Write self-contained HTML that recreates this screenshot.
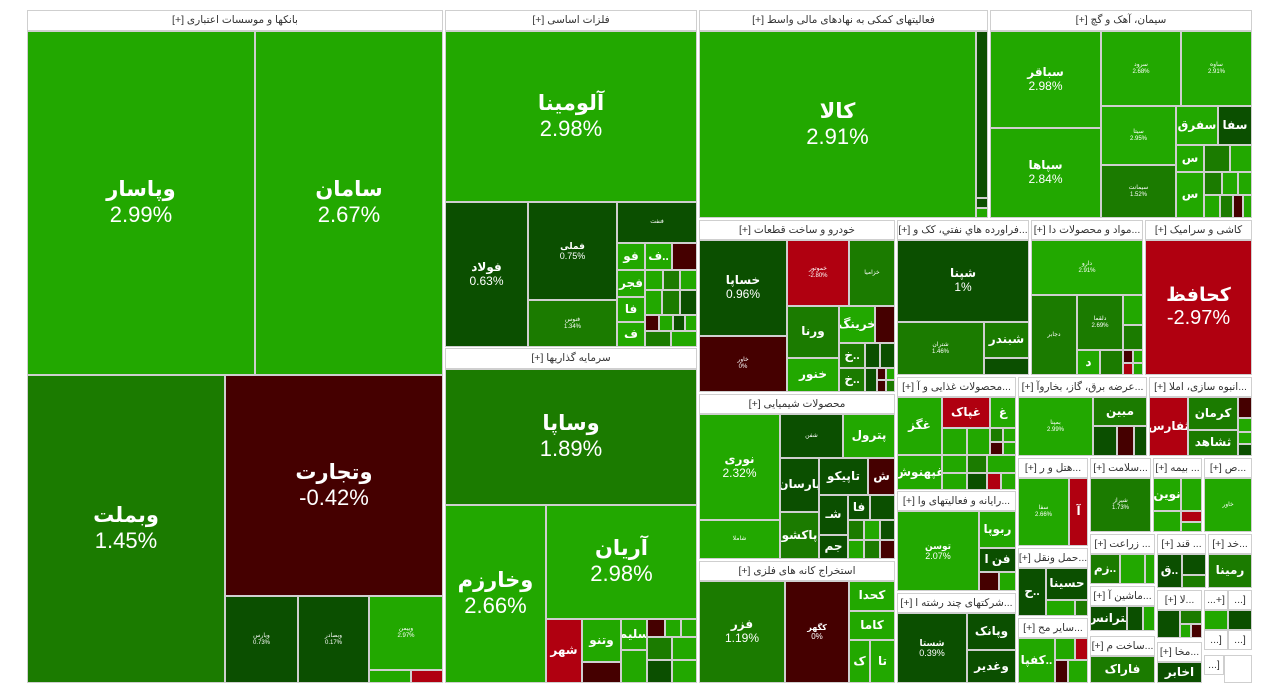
<!DOCTYPE html>
<html><head><meta charset="utf-8"><style>
body{margin:0;width:1280px;height:699px;background:#fff;position:relative;overflow:hidden;font-family:"Liberation Sans","DejaVu Sans",sans-serif}
div{position:absolute;box-sizing:border-box;border:1px solid #cfcfcf;display:flex;flex-direction:column;align-items:center;justify-content:center;color:#fff;overflow:hidden;text-align:center;line-height:1.15;white-space:nowrap}
.h{background:#fff;color:#333;font-size:10.5px;direction:rtl}
.g{background:#22a800}.m{background:#1b7b00}.d{background:#0b4f00}.r{background:#b00010}.k{background:#450000}
.b{font-size:22px}.b b{font-size:21px}
.s{font-size:12px}.s b{font-size:12px}
.t{font-size:6px}
</style></head><body>
<!-- S1 -->
<div class="h" style="left:27px;top:10px;width:416px;height:21px">بانکها و موسسات اعتباری [+]</div>
<div class="g b" style="left:27px;top:31px;width:228px;height:344px"><b>وپاسار</b>2.99%</div>
<div class="g b" style="left:255px;top:31px;width:188px;height:344px"><b>سامان</b>2.67%</div>
<div class="m b" style="left:27px;top:375px;width:198px;height:308px"><b>وبملت</b>1.45%</div>
<div class="k b" style="left:225px;top:375px;width:218px;height:221px"><b>وتجارت</b>-0.42%</div>
<div class="d t" style="left:225px;top:596px;width:73px;height:87px">ویارس<br>0.73%</div>
<div class="d t" style="left:298px;top:596px;width:71px;height:87px">وبصادر<br>0.17%</div>
<div class="g t" style="left:369px;top:596px;width:74px;height:74px">وبیمن<br>2.97%</div>
<div class="g" style="left:369px;top:670px;width:42px;height:13px"></div>
<div class="r" style="left:411px;top:670px;width:32px;height:13px"></div>
<!-- S2 -->
<div class="h" style="left:445px;top:10px;width:252px;height:21px">فلزات اساسی [+]</div>
<div class="g b" style="left:445px;top:31px;width:252px;height:171px"><b>آلومینا</b>2.98%</div>
<div class="d s" style="left:445px;top:202px;width:83px;height:145px"><b>فولاد</b>0.63%</div>
<div class="d t" style="left:528px;top:202px;width:89px;height:98px"><b style="font-size:9px">فملی</b><span style="font-size:9px">0.75%</span></div>
<div class="m t" style="left:528px;top:300px;width:89px;height:47px">فنوس<br>1.34%</div>
<div class="d t" style="left:617px;top:202px;width:80px;height:41px">فنفت</div>
<div class="g s" style="left:617px;top:243px;width:28px;height:27px"><b>فو</b></div>
<div class="g s" style="left:645px;top:243px;width:27px;height:27px"><b>ف..</b></div>
<div class="k" style="left:672px;top:243px;width:25px;height:27px"></div>
<div class="g s" style="left:617px;top:270px;width:28px;height:27px"><b>فجر</b></div>
<div class="g" style="left:645px;top:270px;width:18px;height:20px"></div>
<div class="m" style="left:663px;top:270px;width:17px;height:20px"></div>
<div class="g" style="left:680px;top:270px;width:17px;height:20px"></div>
<div class="g s" style="left:617px;top:297px;width:28px;height:25px"><b>فا</b></div>
<div class="g s" style="left:617px;top:322px;width:28px;height:25px"><b>ف</b></div>
<div class="g" style="left:645px;top:290px;width:17px;height:25px"></div>
<div class="m" style="left:662px;top:290px;width:18px;height:25px"></div>
<div class="d" style="left:680px;top:290px;width:17px;height:25px"></div>
<div class="k" style="left:645px;top:315px;width:14px;height:16px"></div>
<div class="g" style="left:659px;top:315px;width:14px;height:16px"></div>
<div class="d" style="left:673px;top:315px;width:12px;height:16px"></div>
<div class="g" style="left:685px;top:315px;width:12px;height:16px"></div>
<div class="m" style="left:645px;top:331px;width:26px;height:16px"></div>
<div class="g" style="left:671px;top:331px;width:26px;height:16px"></div>
<!-- S3 -->
<div class="h" style="left:445px;top:348px;width:252px;height:21px">سرمایه گذاریها [+]</div>
<div class="m b" style="left:445px;top:369px;width:252px;height:136px"><b>وساپا</b>1.89%</div>
<div class="g b" style="left:445px;top:505px;width:101px;height:178px"><b>وخارزم</b>2.66%</div>
<div class="g b" style="left:546px;top:505px;width:151px;height:114px"><b>آریان</b>2.98%</div>
<div class="r s" style="left:546px;top:619px;width:36px;height:64px"><b>شهر</b></div>
<div class="g s" style="left:582px;top:619px;width:39px;height:43px"><b>وتنو</b></div>
<div class="k" style="left:582px;top:662px;width:39px;height:21px"></div>
<div class="g s" style="left:621px;top:619px;width:26px;height:31px"><b>سلیم</b></div>
<div class="k" style="left:647px;top:619px;width:18px;height:18px"></div>
<div class="g" style="left:665px;top:619px;width:16px;height:18px"></div>
<div class="g" style="left:681px;top:619px;width:16px;height:18px"></div>
<div class="m" style="left:647px;top:637px;width:25px;height:23px"></div>
<div class="g" style="left:672px;top:637px;width:25px;height:23px"></div>
<div class="g" style="left:621px;top:650px;width:26px;height:33px"></div>
<div class="d" style="left:647px;top:660px;width:25px;height:23px"></div>
<div class="g" style="left:672px;top:660px;width:25px;height:23px"></div>
<!-- S4 -->
<div class="h" style="left:699px;top:10px;width:289px;height:21px">فعالیتهای کمکی به نهادهای مالی واسط [+]</div>
<div class="g b" style="left:699px;top:31px;width:277px;height:187px"><b>کالا</b>2.91%</div>
<div class="d" style="left:976px;top:31px;width:12px;height:167px"></div>
<div class="d" style="left:976px;top:198px;width:12px;height:10px"></div>
<div class="g" style="left:976px;top:208px;width:12px;height:10px"></div>
<!-- S5 -->
<div class="h" style="left:990px;top:10px;width:262px;height:21px">سیمان، آهک و گچ [+]</div>
<div class="g s" style="left:990px;top:31px;width:111px;height:97px"><b>سباقر</b>2.98%</div>
<div class="g s" style="left:990px;top:128px;width:111px;height:90px"><b>سپاها</b>2.84%</div>
<div class="g t" style="left:1101px;top:31px;width:80px;height:75px">سرود<br>2.68%</div>
<div class="g t" style="left:1181px;top:31px;width:71px;height:75px">ساوه<br>2.91%</div>
<div class="g t" style="left:1101px;top:106px;width:75px;height:59px">سیتا<br>2.95%</div>
<div class="m t" style="left:1101px;top:165px;width:75px;height:53px">سیمانت<br>1.52%</div>
<div class="g s" style="left:1176px;top:106px;width:42px;height:39px"><b>سفرق</b></div>
<div class="d s" style="left:1218px;top:106px;width:34px;height:39px"><b>سفا</b></div>
<div class="g s" style="left:1176px;top:145px;width:28px;height:27px"><b>س</b></div>
<div class="m" style="left:1204px;top:145px;width:26px;height:27px"></div>
<div class="g" style="left:1230px;top:145px;width:22px;height:27px"></div>
<div class="g s" style="left:1176px;top:172px;width:28px;height:46px"><b>س</b></div>
<div class="m" style="left:1204px;top:172px;width:18px;height:23px"></div>
<div class="g" style="left:1222px;top:172px;width:16px;height:23px"></div>
<div class="g" style="left:1238px;top:172px;width:14px;height:23px"></div>
<div class="g" style="left:1204px;top:195px;width:16px;height:23px"></div>
<div class="m" style="left:1220px;top:195px;width:13px;height:23px"></div>
<div class="k" style="left:1233px;top:195px;width:10px;height:23px"></div>
<div class="g" style="left:1243px;top:195px;width:9px;height:23px"></div>
<!-- S6 -->
<div class="h" style="left:699px;top:220px;width:196px;height:20px">خودرو و ساخت قطعات [+]</div>
<div class="d s" style="left:699px;top:240px;width:88px;height:96px"><b>خساپا</b>0.96%</div>
<div class="k t" style="left:699px;top:336px;width:88px;height:56px">خاور<br>0%</div>
<div class="r t" style="left:787px;top:240px;width:62px;height:66px">خموتور<br>-2.80%</div>
<div class="m t" style="left:849px;top:240px;width:46px;height:66px">خزامیا</div>
<div class="m s" style="left:787px;top:306px;width:52px;height:52px"><b>ورنا</b></div>
<div class="g s" style="left:839px;top:306px;width:36px;height:37px"><b>خرینگ</b></div>
<div class="k" style="left:875px;top:306px;width:20px;height:37px"></div>
<div class="g s" style="left:787px;top:358px;width:52px;height:34px"><b>خنور</b></div>
<div class="m s" style="left:839px;top:343px;width:26px;height:25px"><b>خ..</b></div>
<div class="d" style="left:865px;top:343px;width:15px;height:25px"></div>
<div class="d" style="left:880px;top:343px;width:15px;height:25px"></div>
<div class="m s" style="left:839px;top:368px;width:26px;height:24px"><b>خ..</b></div>
<div class="d" style="left:865px;top:368px;width:12px;height:24px"></div>
<div class="k" style="left:877px;top:368px;width:9px;height:12px"></div>
<div class="g" style="left:886px;top:368px;width:9px;height:12px"></div>
<div class="k" style="left:877px;top:380px;width:9px;height:12px"></div>
<div class="m" style="left:886px;top:380px;width:9px;height:12px"></div>
<!-- S7 -->
<div class="h" style="left:897px;top:220px;width:132px;height:20px">...فراورده هاي نفتي، کک و [+]</div>
<div class="d s" style="left:897px;top:240px;width:132px;height:82px"><b>شپنا</b>1%</div>
<div class="m t" style="left:897px;top:322px;width:87px;height:53px">شتران<br>1.46%</div>
<div class="m s" style="left:984px;top:322px;width:45px;height:36px"><b>شبندر</b></div>
<div class="d" style="left:984px;top:358px;width:45px;height:17px"></div>
<!-- S8 -->
<div class="h" style="left:1031px;top:220px;width:112px;height:20px">...مواد و محصولات دا [+]</div>
<div class="g t" style="left:1031px;top:240px;width:112px;height:55px">دارو<br>2.91%</div>
<div class="m t" style="left:1031px;top:295px;width:46px;height:80px">دجابر</div>
<div class="m t" style="left:1077px;top:295px;width:46px;height:55px">دلقما<br>2.69%</div>
<div class="g s" style="left:1077px;top:350px;width:23px;height:25px"><b>د</b></div>
<div class="m" style="left:1100px;top:350px;width:23px;height:25px"></div>
<div class="g" style="left:1123px;top:295px;width:20px;height:30px"></div>
<div class="m" style="left:1123px;top:325px;width:20px;height:25px"></div>
<div class="k" style="left:1123px;top:350px;width:10px;height:13px"></div>
<div class="g" style="left:1133px;top:350px;width:10px;height:13px"></div>
<div class="r" style="left:1123px;top:363px;width:10px;height:12px"></div>
<div class="g" style="left:1133px;top:363px;width:10px;height:12px"></div>
<!-- S9 -->
<div class="h" style="left:1145px;top:220px;width:107px;height:20px">کاشی و سرامیک [+]</div>
<div class="r b" style="left:1145px;top:240px;width:107px;height:135px;font-size:20px"><b style="font-size:19px">کحافظ</b>-2.97%</div>
<!-- S10 -->
<div class="h" style="left:897px;top:377px;width:119px;height:20px">...محصولات غذایی و آ [+]</div>
<div class="g s" style="left:897px;top:397px;width:45px;height:58px"><b>غگز</b></div>
<div class="r s" style="left:942px;top:397px;width:48px;height:31px"><b>غپاک</b></div>
<div class="g s" style="left:990px;top:397px;width:26px;height:31px"><b>غ</b></div>
<div class="g" style="left:942px;top:428px;width:25px;height:27px"></div>
<div class="g" style="left:967px;top:428px;width:23px;height:27px"></div>
<div class="m" style="left:990px;top:428px;width:13px;height:14px"></div>
<div class="g" style="left:1003px;top:428px;width:13px;height:14px"></div>
<div class="k" style="left:990px;top:442px;width:13px;height:13px"></div>
<div class="g" style="left:1003px;top:442px;width:13px;height:13px"></div>
<div class="g s" style="left:897px;top:455px;width:45px;height:35px"><b>غپهنوش</b></div>
<div class="g" style="left:942px;top:455px;width:25px;height:18px"></div>
<div class="m" style="left:967px;top:455px;width:20px;height:18px"></div>
<div class="g" style="left:987px;top:455px;width:29px;height:18px"></div>
<div class="g" style="left:942px;top:473px;width:25px;height:17px"></div>
<div class="d" style="left:967px;top:473px;width:20px;height:17px"></div>
<div class="r" style="left:987px;top:473px;width:14px;height:17px"></div>
<div class="g" style="left:1001px;top:473px;width:15px;height:17px"></div>
<!-- S11 -->
<div class="h" style="left:897px;top:491px;width:119px;height:20px">...رایانه و فعالیتهای وا [+]</div>
<div class="g t" style="left:897px;top:511px;width:82px;height:80px"><b style="font-size:9px">توسن</b><span style="font-size:9px">2.07%</span></div>
<div class="g s" style="left:979px;top:511px;width:37px;height:37px"><b>ربوپا</b></div>
<div class="d s" style="left:979px;top:548px;width:37px;height:24px"><b>فن ا</b></div>
<div class="k" style="left:979px;top:572px;width:20px;height:19px"></div>
<div class="g" style="left:999px;top:572px;width:17px;height:19px"></div>
<!-- S12 -->
<div class="h" style="left:897px;top:593px;width:119px;height:20px">...شرکتهای چند رشته ا [+]</div>
<div class="d t" style="left:897px;top:613px;width:70px;height:70px"><b style="font-size:9px">شستا</b><span style="font-size:9px">0.39%</span></div>
<div class="d s" style="left:967px;top:613px;width:49px;height:37px"><b>وپانک</b></div>
<div class="d s" style="left:967px;top:650px;width:49px;height:33px"><b>وغدیر</b></div>
<!-- S13 -->
<div class="h" style="left:699px;top:394px;width:196px;height:20px">محصولات شیمیایی [+]</div>
<div class="g s" style="left:699px;top:414px;width:81px;height:106px"><b>نوری</b>2.32%</div>
<div class="d t" style="left:780px;top:414px;width:63px;height:44px">شفن</div>
<div class="g s" style="left:843px;top:414px;width:52px;height:44px"><b>پترول</b></div>
<div class="d s" style="left:780px;top:458px;width:39px;height:54px"><b>پارسان</b></div>
<div class="d s" style="left:819px;top:458px;width:49px;height:37px"><b>تاپیکو</b></div>
<div class="k s" style="left:868px;top:458px;width:27px;height:37px"><b>ش</b></div>
<div class="d s" style="left:819px;top:495px;width:29px;height:40px"><b>شـ</b></div>
<div class="d s" style="left:848px;top:495px;width:22px;height:25px"><b>فا</b></div>
<div class="d" style="left:870px;top:495px;width:25px;height:25px"></div>
<div class="m s" style="left:780px;top:512px;width:39px;height:47px"><b>پاکشو</b></div>
<div class="d s" style="left:819px;top:535px;width:29px;height:24px"><b>جم</b></div>
<div class="g t" style="left:699px;top:520px;width:81px;height:39px">شاملا</div>
<div class="m" style="left:848px;top:520px;width:16px;height:20px"></div>
<div class="g" style="left:864px;top:520px;width:16px;height:20px"></div>
<div class="d" style="left:880px;top:520px;width:15px;height:20px"></div>
<div class="g" style="left:848px;top:540px;width:16px;height:19px"></div>
<div class="m" style="left:864px;top:540px;width:16px;height:19px"></div>
<div class="k" style="left:880px;top:540px;width:15px;height:19px"></div>
<!-- S14 -->
<div class="h" style="left:699px;top:561px;width:196px;height:20px">استخراج کانه های فلزی [+]</div>
<div class="m s" style="left:699px;top:581px;width:86px;height:102px"><b>فزر</b>1.19%</div>
<div class="k t" style="left:785px;top:581px;width:64px;height:102px"><b style="font-size:8px">کگهر</b><span style="font-size:8px">0%</span></div>
<div class="g s" style="left:849px;top:581px;width:46px;height:30px"><b>کحدا</b></div>
<div class="g s" style="left:849px;top:611px;width:46px;height:29px"><b>کاما</b></div>
<div class="g s" style="left:849px;top:640px;width:21px;height:43px"><b>ک</b></div>
<div class="g s" style="left:870px;top:640px;width:25px;height:43px"><b>تا</b></div>
<!-- S15 -->
<div class="h" style="left:1018px;top:377px;width:129px;height:20px">...عرضه برق، گاز، بخاروآ [+]</div>
<div class="g t" style="left:1018px;top:397px;width:75px;height:59px">بمپنا<br>2.99%</div>
<div class="m s" style="left:1093px;top:397px;width:54px;height:29px"><b>مبین</b></div>
<div class="d" style="left:1093px;top:426px;width:24px;height:30px"></div>
<div class="k" style="left:1117px;top:426px;width:17px;height:30px"></div>
<div class="d" style="left:1134px;top:426px;width:13px;height:30px"></div>
<!-- S16 -->
<div class="h" style="left:1149px;top:377px;width:103px;height:20px">...انبوه سازی، املا [+]</div>
<div class="r s" style="left:1149px;top:397px;width:39px;height:59px"><b>ثفارس</b></div>
<div class="m s" style="left:1188px;top:397px;width:50px;height:33px"><b>کرمان</b></div>
<div class="k" style="left:1238px;top:397px;width:14px;height:21px"></div>
<div class="m s" style="left:1188px;top:430px;width:50px;height:26px"><b>ثشاهد</b></div>
<div class="g" style="left:1238px;top:418px;width:14px;height:14px"></div>
<div class="g" style="left:1238px;top:432px;width:14px;height:12px"></div>
<div class="d" style="left:1238px;top:444px;width:14px;height:12px"></div>
<!-- S17-20 -->
<div class="h" style="left:1018px;top:458px;width:70px;height:20px">...هتل و ر [+]</div>
<div class="g t" style="left:1018px;top:478px;width:51px;height:68px">سفا<br>2.66%</div>
<div class="r s" style="left:1069px;top:478px;width:19px;height:68px"><b>آ</b></div>
<div class="h" style="left:1090px;top:458px;width:61px;height:20px">...سلامت [+]</div>
<div class="m t" style="left:1090px;top:478px;width:61px;height:54px">شیراز<br>1.73%</div>
<div class="h" style="left:1153px;top:458px;width:49px;height:20px">... بیمه [+]</div>
<div class="g s" style="left:1153px;top:478px;width:28px;height:33px"><b>نوین</b></div>
<div class="g" style="left:1181px;top:478px;width:21px;height:33px"></div>
<div class="g" style="left:1153px;top:511px;width:28px;height:21px"></div>
<div class="r" style="left:1181px;top:511px;width:21px;height:11px"></div>
<div class="g" style="left:1181px;top:522px;width:21px;height:10px"></div>
<div class="h" style="left:1204px;top:458px;width:48px;height:20px">...ص [+]</div>
<div class="g t" style="left:1204px;top:478px;width:48px;height:54px">خاور</div>
<!-- S21-29 -->
<div class="h" style="left:1018px;top:548px;width:70px;height:20px">...حمل ونقل [+]</div>
<div class="d s" style="left:1018px;top:568px;width:28px;height:48px"><b>ح..</b></div>
<div class="d s" style="left:1046px;top:568px;width:42px;height:32px"><b>حسینا</b></div>
<div class="g" style="left:1046px;top:600px;width:29px;height:16px"></div>
<div class="m" style="left:1075px;top:600px;width:13px;height:16px"></div>
<div class="h" style="left:1090px;top:534px;width:65px;height:20px">... زراعت [+]</div>
<div class="m s" style="left:1090px;top:554px;width:30px;height:30px"><b>زم..</b></div>
<div class="g" style="left:1120px;top:554px;width:25px;height:30px"></div>
<div class="g" style="left:1145px;top:554px;width:10px;height:30px"></div>
<div class="h" style="left:1157px;top:534px;width:49px;height:20px">... قند [+]</div>
<div class="d s" style="left:1157px;top:554px;width:25px;height:34px"><b>ق..</b></div>
<div class="d" style="left:1182px;top:554px;width:24px;height:21px"></div>
<div class="m" style="left:1182px;top:575px;width:24px;height:13px"></div>
<div class="h" style="left:1208px;top:534px;width:44px;height:20px">...خد [+]</div>
<div class="m s" style="left:1208px;top:554px;width:44px;height:34px"><b>رمینا</b></div>
<div class="h" style="left:1090px;top:586px;width:65px;height:20px">...ماشین آ [+]</div>
<div class="d s" style="left:1090px;top:606px;width:37px;height:25px"><b>بترانس</b></div>
<div class="d" style="left:1127px;top:606px;width:16px;height:25px"></div>
<div class="g" style="left:1143px;top:606px;width:12px;height:25px"></div>
<div class="h" style="left:1018px;top:618px;width:70px;height:20px">...سایر مح [+]</div>
<div class="g s" style="left:1018px;top:638px;width:37px;height:45px"><b>کفپا..</b></div>
<div class="g" style="left:1055px;top:638px;width:20px;height:22px"></div>
<div class="r" style="left:1075px;top:638px;width:13px;height:22px"></div>
<div class="k" style="left:1055px;top:660px;width:13px;height:23px"></div>
<div class="g" style="left:1068px;top:660px;width:20px;height:23px"></div>
<div class="h" style="left:1090px;top:636px;width:65px;height:20px">...ساخت م [+]</div>
<div class="m s" style="left:1090px;top:656px;width:65px;height:27px"><b>فاراک</b></div>
<div class="h" style="left:1157px;top:590px;width:45px;height:20px">...لا [+]</div>
<div class="d" style="left:1157px;top:610px;width:23px;height:28px"></div>
<div class="m" style="left:1180px;top:610px;width:22px;height:14px"></div>
<div class="g" style="left:1180px;top:624px;width:11px;height:14px"></div>
<div class="k" style="left:1191px;top:624px;width:11px;height:14px"></div>
<div class="h" style="left:1157px;top:642px;width:45px;height:20px">...مخا [+]</div>
<div class="d s" style="left:1157px;top:662px;width:45px;height:21px"><b>اخابر</b></div>
<div class="h" style="left:1204px;top:590px;width:24px;height:20px">[+...</div>
<div class="g" style="left:1204px;top:610px;width:24px;height:20px"></div>
<div class="h" style="left:1228px;top:590px;width:24px;height:20px">[...</div>
<div class="d" style="left:1228px;top:610px;width:24px;height:20px"></div>
<div class="h" style="left:1204px;top:630px;width:24px;height:20px">[...</div>
<div class="h" style="left:1228px;top:630px;width:24px;height:20px">[...</div>
<div class="h" style="left:1204px;top:655px;width:20px;height:20px">[...</div>
<div class="h" style="left:1224px;top:655px;width:28px;height:28px"></div>
</body></html>
